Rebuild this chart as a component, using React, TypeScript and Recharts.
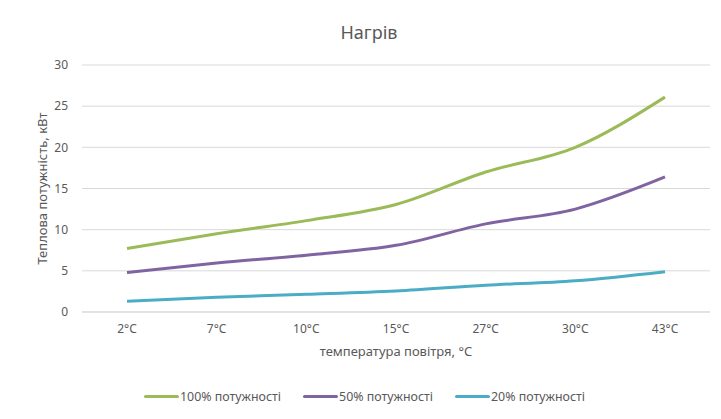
import { LineChart, Line, XAxis, YAxis, CartesianGrid, Legend } from 'recharts';

const temps = ['2°C', '7°C', '10°C', '15°C', '27°C', '30°C', '43°C'];
const full = [7.7, 9.5, 11.1, 13.05, 17.0, 20.0, 26.1];
const half = [4.8, 5.95, 6.9, 8.1, 10.7, 12.5, 16.4];
const low = [1.3, 1.8, 2.15, 2.55, 3.25, 3.8, 4.9];
const yTicks = [0, 5, 10, 15, 20, 25, 30];

const series = [
    { key: 'full', name: '100% потужності', color: '#9BBB59' },
    { key: 'half', name: '50% потужності', color: '#8064A2' },
    { key: 'low', name: '20% потужності', color: '#4BACC6' },
];

const data = temps.map((t, i) => ({ t, full: full[i], half: half[i], low: low[i] }));

const font = "'Noto Sans', 'Open Sans', sans-serif";
const grey = '#595959';

function LegendBox() {
    return (
        <div style={{ display: 'flex', justifyContent: 'center', height: 20, alignItems: 'center', paddingLeft: 11, fontFamily: font, fontSize: 12.4, color: grey }}>
            {series.map(s => (
                <div key={s.key} style={{ display: 'flex', alignItems: 'center', margin: '0 11px' }}>
                    <span style={{ display: 'inline-block', width: 35, height: 3, background: s.color, borderRadius: 2, marginRight: 1 }} />
                    {s.name}
                </div>
            ))}
        </div>
    );
}

export default function App() {
    return (
        <div style={{ position: 'relative', width: 714, height: 412, margin: '-2px 0 0 -1px', border: '1px solid #d9d9d9', background: '#fff' }}>
            <div style={{ position: 'absolute', top: 13, left: 0, width: 714, paddingLeft: 8, boxSizing: 'border-box', textAlign: 'center', fontFamily: font, fontSize: 18, color: grey, zIndex: 1 }}>
                Нагрів
            </div>
            <LineChart width={714} height={412} data={data} margin={{ top: 58, right: 12, left: 0, bottom: 57 }}>
                <CartesianGrid stroke="#d9d9d9" vertical={false} />
                <XAxis
                    dataKey="t"
                    height={30}
                    padding={{ left: 45, right: 45 }}
                    axisLine={{ stroke: '#d9d9d9' }}
                    tickLine={false}
                    tickSize={0}
                    tickMargin={12}
                    tick={{ fill: grey, fontSize: 12, fontFamily: font }}
                    label={{ value: 'температура повітря, °C', position: 'bottom', offset: 5, fill: grey, fontSize: 13, fontFamily: font }}
                />
                <YAxis
                    width={74}
                    domain={[0, 30]}
                    ticks={yTicks}
                    axisLine={false}
                    tickLine={false}
                    tickSize={0}
                    tickMargin={14}
                    tick={{ fill: grey, fontSize: 12, fontFamily: font }}
                    label={{ value: 'Теплова потужність, кВт', angle: -90, position: 'insideLeft', offset: 34, style: { textAnchor: 'middle' }, fill: grey, fontSize: 13, fontFamily: font }}
                />
                <Legend verticalAlign="bottom" content={<LegendBox />} wrapperStyle={{ top: 379, bottom: 'auto' }} />
                {series.map(s => (
                    <Line
                        key={s.key}
                        type="monotone"
                        dataKey={s.key}
                        name={s.name}
                        stroke={s.color}
                        strokeWidth={3}
                        dot={false}
                        activeDot={false}
                        isAnimationActive={false}
                    />
                ))}
            </LineChart>
        </div>
    );
}
